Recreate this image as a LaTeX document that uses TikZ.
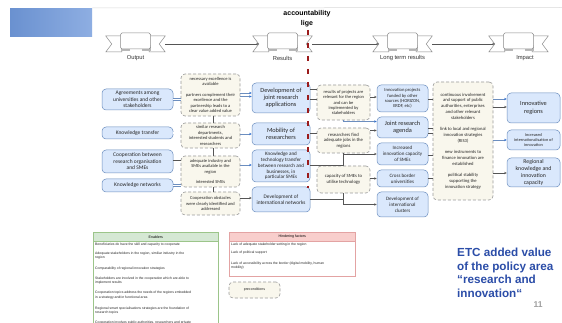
\documentclass[tikz,border=0pt]{standalone}
\usepackage{fontspec}
\setmainfont{Carlito}
\newfontfamily\arialf{Liberation Sans}
\usetikzlibrary{arrows.meta,calc}
\definecolor{bfill}{HTML}{DAE8FC}
\definecolor{bline}{HTML}{6C8EBF}
\definecolor{pfill}{HTML}{F9F7ED}
\definecolor{pline}{HTML}{9A9A9A}
\definecolor{conn}{HTML}{555555}
\definecolor{barrow}{HTML}{2F6FD0}
\definecolor{redline}{HTML}{9B1B1B}
\definecolor{gfill}{HTML}{D5E8D4}
\definecolor{gline}{HTML}{9CC58A}
\definecolor{rfill}{HTML}{F8CECC}
\definecolor{rline}{HTML}{E3A3A3}
\definecolor{etcblue}{HTML}{2B4DA8}
\definecolor{ribgray}{HTML}{8A8A8A}

\newcommand\fs[2]{\fontsize{#1}{#2}\selectfont}
% horizontal link between two anchors at a given height
\newcommand\hlink[4]{\coordinate (hy) at (0,#4); \draw[#1] (#2 |- hy) -- (#3 |- hy);}
% vertical link between two anchors at a given x
\newcommand\vlink[4]{\coordinate (vx) at (#4,0); \draw[#1] (#2 -| vx) -- (#3 -| vx);}
% ribbon marker drawn round a named node
\newcommand\ribbon[1]{%
  \draw[rib] ($(#1.west)+(0,-8)$) -- ++(16,0) -- ++(0,16) -- ++(-16,0) -- ++(6,-8) -- cycle;
  \draw[rib] ($(#1.east)+(0,-8)$) -- ++(-16,0) -- ++(0,16) -- ++(16,0) -- ++(-6,-8) -- cycle;
  \fill[gray!55] ($(#1.center)+(-15,1)$) rectangle ($(#1.center)+(-6,7)$);
  \fill[gray!55] ($(#1.center)+(6,1)$) rectangle ($(#1.center)+(15,7)$);
  \draw[rib, rounded corners=1.5pt] ($(#1.center)+(-15,-11)$) rectangle ($(#1.center)+(15,5)$);
}

\begin{document}
\begin{tikzpicture}[x=1pt,y=-1pt,
  box/.style={rounded corners=4pt, draw=bline, fill=bfill, line width=0.5pt, inner sep=0.5pt, align=center, text=black!85},
  pre/.style={rounded corners=4pt, draw=pline, fill=pfill, dash pattern=on 3pt off 2pt, line width=0.6pt, inner sep=0.5pt, align=center, text=black!85},
  ln/.style={draw=conn, line width=0.45pt},
  blk/.style={ln, -{Stealth[length=2.6pt,width=2.4pt]}},
  blu/.style={draw=bline, line width=0.6pt, -{Stealth[length=2.6pt,width=2.4pt,color=barrow]}},
  dbl/.style={draw=bline, double=white, double distance=1.1pt, line width=0.5pt},
  rib/.style={draw=ribgray, fill=white, line width=0.5pt},
  anchorbox/.style={inner sep=0, minimum width=59pt, minimum height=16pt},
  ribtxt/.style={font=\arialf\fs{5.8}{7}, text=black!80},
  tabtxt/.style={font=\arialf\fs{3.4}{4.4}, anchor=west, align=left, inner sep=0, text=black!85},
  tabhead/.style={font=\arialf\fs{3.6}{4.3}, anchor=north west, inner sep=0, minimum height=9pt},
]
\useasboundingbox (0,0) rectangle (562,323);
\clip (0,0) rectangle (562,323);
\fill[white] (0,0) rectangle (562,323);

% header band
\node[anchor=north west, inner sep=0, minimum width=82pt, minimum height=28pt,
      left color={rgb,255:red,106;green,145;blue,208}, right color={rgb,255:red,142;green,174;blue,226}] (topbar) at (10,8) {};
\coordinate (topend) at (562,7.5);
\draw[gray!30, line width=0.5pt] (topbar.north east) -- (topend);

\node[font=\arialf\bfseries\fs{7}{9.8}, align=center] (title) at (307,19) {accountability\\lige};

% ribbon markers on the time line
\node[anchorbox] (cOut) at (135.5,44) {};
\node[anchorbox] (cRes) at (282.5,44) {};
\node[anchorbox] (cLong) at (402.5,44) {};
\node[anchorbox] (cImp) at (518.5,44) {};
\ribbon{cOut}\ribbon{cRes}\ribbon{cLong}\ribbon{cImp}
\node[ribtxt] (lOut) at (135.5,58) {Output};
\node[ribtxt] (lRes) at (282.5,58) {Results};
\node[ribtxt] (lLong) at (402.5,58) {Long term results};
\node[ribtxt] (lImp) at (525,58) {Impact};
\draw[blk] (cOut.east) -- ($(cRes.west)+(6,0)$);
\draw[blk] (cRes.east) -- ($(cLong.west)+(6,0)$);
\draw[blk] (cLong.east) -- ($(cImp.west)+(6,0)$);

% output column
\node[box, minimum width=71pt, minimum height=21pt, font=\fs{5.5}{6.5}] (A1) at (137.5,99.5) {Agreements among\\universities and other\\stakeholders};
\node[box, minimum width=71pt, minimum height=12pt, font=\fs{5.5}{6.5}] (A2) at (137.5,133) {Knowledge transfer};
\node[box, minimum width=71pt, minimum height=23pt, font=\fs{5.5}{6.5}] (A3) at (137.5,161.5) {Cooperation between\\research organisation\\and SMEs};
\node[box, minimum width=71pt, minimum height=13pt, font=\fs{5.5}{6.5}] (A4) at (137.5,185.5) {Knowledge networks};

% first preconditions column
\node[pre, minimum width=59pt, minimum height=42pt, font=\fs{4.5}{5.4}] (P1) at (210.5,95) {necessary excellence is\\available\\[5.4pt]partners complement their\\excellence and the\\partnership leads to a\\clear value added value};
\node[pre, minimum width=59pt, minimum height=25pt, font=\fs{4.5}{5.4}] (P2) at (210.5,135.5) {similar research\\departments,\\interested students and\\researchers};
\node[pre, minimum width=59pt, minimum height=31pt, font=\fs{4.5}{5.4}] (P3) at (210.5,171.5) {adequate industry and\\SMEs available in the\\region\\[5.4pt]interested SMEs};
\node[pre, minimum width=59pt, minimum height=23pt, font=\fs{4.5}{5.4}] (P4) at (210.5,203.5) {Cooperation obstacles\\were clearly identified and\\addressed};

% results column
\node[box, minimum width=58pt, minimum height=30pt, font=\fs{6.3}{7.3}] (R1) at (281,98) {Development of\\joint research\\applications};
\node[box, minimum width=58pt, minimum height=22pt, font=\fs{6.3}{7.3}] (R2) at (281,134) {Mobility of\\researchers};
\node[box, minimum width=58pt, minimum height=32pt, font=\fs{5.1}{5.8}] (R3) at (281,166) {Knowledge and\\technology transfer\\between research and\\businesses, in\\particular SMEs};
\node[box, minimum width=58pt, minimum height=25pt, font=\fs{5.3}{6.4}] (R4) at (281,199.5) {Development of\\international networks};

% second preconditions column
\node[pre, minimum width=53pt, minimum height=35pt, font=\fs{4.5}{5.3}] (Q1) at (343.5,102.5) {results of projects are\\relevant for the region\\and can be\\implemented by\\stakeholders};
\node[pre, minimum width=53pt, minimum height=25pt, font=\fs{4.7}{5.5}] (Q2) at (343.5,140.5) {researchers find\\adequate jobs in the\\regions};
\node[pre, minimum width=53pt, minimum height=27pt, font=\fs{4.7}{5.5}] (Q3) at (343.5,179.5) {capacity of SMEs to\\utilise technology};

% long term results column
\node[box, minimum width=51pt, minimum height=27pt, font=\fs{4.6}{5.4}] (L1) at (402.5,98.5) {Innovation projects\\funded by other\\sources (HORIZON,\\ERDF, etc)};
\node[box, minimum width=51pt, minimum height=21pt, font=\fs{6.3}{7.3}] (L2) at (402.5,127.5) {Joint research\\agenda};
\node[box, minimum width=51pt, minimum height=22pt, font=\fs{5}{6}] (L3) at (402.5,154) {Increased\\innovation capacity\\of SMEs};
\node[box, minimum width=51pt, minimum height=17pt, font=\fs{5}{6}] (L4) at (402.5,178.5) {Cross border\\universities};
\node[box, minimum width=51pt, minimum height=25pt, font=\fs{5}{6}] (L5) at (402.5,204.5) {Development of\\international\\clusters};

% third preconditions block
\node[pre, minimum width=60pt, minimum height=118pt, font=\fs{4.6}{5.75}] (B) at (463,141) {continuous involvement\\and support of public\\authorities, enterprises\\and other relevant\\stakeholders\\[5.75pt]link to local and regional\\innovation strategies\\(RIS3)\\[5.75pt]new instruments to\\finance innovation are\\established\\[5.75pt]political stability\\supporting the\\innovation strategy};

% impact column
\node[box, minimum width=53pt, minimum height=30pt, font=\fs{6.3}{7.3}] (I1) at (533.5,108) {Innovative\\regions};
\node[box, minimum width=53pt, minimum height=20pt, font=\fs{4.3}{4.9}] (I2) at (533.5,140) {Increased\\internationalisation of\\innovation};
\node[box, minimum width=53pt, minimum height=29pt, font=\fs{5.8}{6.7}] (I3) at (533.5,172.5) {Regional\\knowledge and\\innovation\\capacity};

% output -> preconditions
\hlink{dbl}{A1.east}{P1.west}{99.5}
\hlink{dbl}{A2.east}{P2.west}{133}
\hlink{ln}{A3.east}{P3.west}{160}
\hlink{dbl}{A4.east}{P3.west}{185.5}
\vlink{ln}{P1.south}{P2.north}{213}
\vlink{ln}{P2.south}{P3.north}{213}
\vlink{ln}{P3.south}{P4.north}{213}

% preconditions -> results
\hlink{blu}{P1.east}{R1.west}{93}
\hlink{blu}{P1.east}{R1.west}{96.5}
\hlink{blu}{P2.east}{R2.west}{134}
\hlink{blu}{P3.east}{R3.west}{165}
\hlink{blk}{P4.east}{R4.west}{198}

% results -> long term results
\hlink{ln}{R1.east}{Q1.west}{89}
\hlink{ln}{R1.east}{Q1.west}{99}
\hlink{blk}{Q1.east}{L1.west}{97}
\coordinate (l2in) at ($(L2.west)+(0,-6)$);
\draw[blu] (Q1.south) |- (l2in);
\hlink{ln}{R2.east}{Q2.west}{133}
\hlink{blk}{Q2.east}{L2.west}{130.5}
\coordinate (r3out) at ($(R3.east)+(0,-1)$);
\draw[ln] (r3out) -| (Q2.south);
\draw[blk] (Q2.south) |- (L3.west);
\hlink{blk}{Q3.east}{L4.west}{178.5}
\coordinate (j4) at (Q3.south |- R4.east);
\draw[ln] (R4.east) -- (j4);
\draw[ln] (Q3.south) -- (j4);
\draw[blk] (j4) |- (L5.west);

% long term results -> impact preconditions
\hlink{ln}{L1.east}{B.west}{99}
\hlink{ln}{L2.east}{B.west}{128}
\hlink{ln}{L2.east}{B.west}{133}
\hlink{ln}{L3.east}{B.west}{155}
\hlink{ln}{L4.east}{B.west}{178.5}

% preconditions -> impact
\hlink{blu}{B.east}{I1.west}{99}
\hlink{blk}{B.east}{I1.west}{107}
\hlink{blu}{B.east}{I2.west}{140}
\hlink{blk}{B.east}{I3.west}{173}

% accountability line
\coordinate (ra) at (308,30);
\coordinate (rb) at (308,188);
\draw[redline, line width=1.8pt, dash pattern=on 5pt off 8pt] (ra) -- (rb);

% enablers table
\node[draw=gline, line width=0.5pt, fill=white, anchor=north west, inner sep=0, minimum width=125pt, minimum height=110pt] (en) at (93,232) {};
\node[tabhead, fill=gfill, draw=gline, line width=0.5pt, minimum width=125pt] (enh) at (93,232) {Enablers};
\node[tabtxt] (e1) at (95,245) {Beneficiaries do have the skill and capacity to cooperate};
\node[tabtxt] (e2) at (95,255.5) {Adequate stakeholders in the region, similiar industry in the\\region};
\node[tabtxt] (e3) at (95,269) {Comparability of regional innovation strategies};
\node[tabtxt] (e4) at (95,280.5) {Stakeholders are involved in the cooperation which are able to\\implement results};
\node[tabtxt] (e5) at (95,295) {Cooperation topics address the needs of the regions embedded\\in a strategy and/or functional area};
\node[tabtxt] (e6) at (95,310.5) {Regional smart specialisations strategies are the foundation of\\research topics};
\node[tabtxt] (e7) at (95,322.5) {Cooperation involves public authorities, researchers and private};

% hindering factors table
\node[draw=rline, line width=0.5pt, fill=white, anchor=north west, inner sep=0, minimum width=126pt, minimum height=44pt] (hf) at (229,232) {};
\node[tabhead, fill=rfill, draw=rline, line width=0.5pt, minimum width=126pt] (hfh) at (229,232) {Hindering factors};
\node[tabtxt] (h1) at (231,245) {Lack of adequate stakeholder setting in the region};
\node[tabtxt] (h2) at (231,253) {Lack of political support};
\node[tabtxt] (h3) at (231,265.5) {Lack of accessibility across the border (digital mobility, human\\mobility)};

% legend
\node[pre, minimum width=51pt, minimum height=16pt, font=\arialf\fs{3.6}{4.3}] (leg) at (254.5,290) {preconditions};

% slide caption
\node[anchor=north west, inner sep=0, align=left, text=etcblue, font=\arialf\bfseries\fs{11.7}{13.6}] (etc) at (457,248) {ETC added value\\of the policy area\\“research and\\innovation“};
\node[font=\arialf\bfseries\fs{8.5}{9}, text=gray!75] (pg) at (538,305) {11};
\end{tikzpicture}
\end{document}
